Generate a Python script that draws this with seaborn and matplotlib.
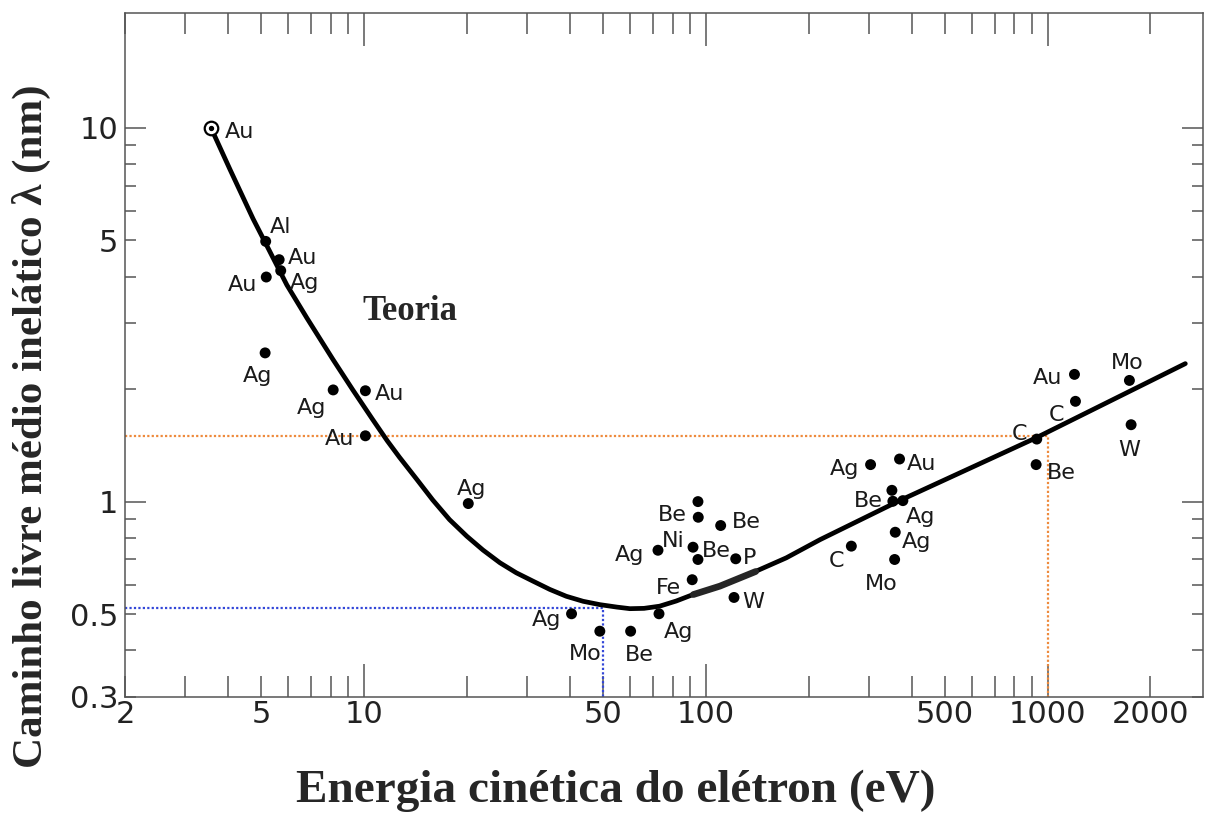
import numpy as np
import pandas as pd
import matplotlib
matplotlib.use("Agg")
import matplotlib.pyplot as plt
import seaborn as sns

# Universal curve (theory): kinetic energy (eV) vs. inelastic mean free path (nm)
curve_energy = [3.57, 4.06, 4.74, 5.20, 5.95, 6.81, 8.12, 9.28, 10.6, 11.7, 12.7,
                14.3, 15.9, 17.8, 20.0, 22.3, 25.0, 27.9, 31.3, 35.0, 39.1, 43.8,
                49.0, 55.0, 60.0, 66.0, 73.3, 82.0, 91.8, 110, 137, 172, 216,
                369, 928, 2530]
curve_imfp = [10.0, 7.73, 5.71, 4.84, 3.80, 3.10, 2.40, 1.99, 1.66, 1.455, 1.315,
              1.145, 1.01, 0.895, 0.808, 0.742, 0.686, 0.645, 0.612, 0.582, 0.558,
              0.541, 0.530, 0.522, 0.517, 0.518, 0.525, 0.542, 0.564, 0.594,
              0.645, 0.707, 0.791, 1.006, 1.483, 2.34]

# short highlighted stretch of the curve
segment_energy = [92, 110, 140]
segment_imfp = [0.564, 0.594, 0.650]

# measured values per element
elements = ["Al", "Au", "Ag", "Au", "Ag", "Ag", "Au", "Au", "Ag",
            "", "Be", "Be", "Ag", "Ni", "Be", "P", "Fe", "W", "Ag", "Ag", "Mo", "Be",
            "Ag", "Au", "", "Be", "Ag", "Ag", "Mo", "C", "C", "Be", "Au", "C", "Mo", "W"]
energy = [5.16, 5.65, 5.71, 5.18, 5.14, 8.13, 10.1, 10.1, 20.2,
          94.9, 95.1, 110.6, 72.5, 91.8, 94.9, 122.4, 91.3, 121, 73, 40.5, 49.0, 60.3,
          303.6, 369, 350.5, 352.8, 377.4, 358.5, 357, 266.7, 930, 926, 1199, 1207, 1736, 1756]
imfp = [4.97, 4.44, 4.15, 3.99, 2.50, 1.99, 1.98, 1.50, 0.988,
        1.00, 0.908, 0.863, 0.741, 0.755, 0.700, 0.703, 0.618, 0.554, 0.501, 0.501, 0.450, 0.450,
        1.256, 1.30, 1.072, 1.002, 1.006, 0.828, 0.70, 0.76, 1.47, 1.256, 2.19, 1.855, 2.11, 1.606]

# the reference point at the start of the curve
ref_element = "Au"
ref_energy = 3.57
ref_imfp = 10.0

# reading guides
guide_energy = [50, 1000]
guide_imfp = [0.52, 1.5]
guide_colors = ["#3347d8", "#ee8a3c"]

x_major = [10, 100, 1000]
x_minor = [2, 3, 4, 5, 6, 7, 8, 9, 20, 30, 40, 50, 60, 70, 80, 90,
           200, 300, 400, 500, 600, 700, 800, 900, 2000]
x_minor_labels = {2: "2", 5: "5", 50: "50", 500: "500", 2000: "2000"}
y_major = [1, 10]
y_minor = [0.3, 0.4, 0.5, 0.6, 0.7, 0.8, 0.9, 2, 3, 4, 5, 6, 7, 8, 9]
y_minor_labels = {0.3: "0.3", 0.5: "0.5", 5: "5"}

# label offsets in pixels (dx, dy down) for each measured point
label_offsets = [(15, -14), (23, -2), (24, 12), (-24, 8), (-8, 23), (-22, 18), (24, 3), (-26, 3), (3, -15),
                 (0, 0), (-26, -2), (26, -4), (-28, 5), (-20, -6), (18, -8), (14, -1), (-24, 8), (19, 5),
                 (20, 18), (-25, 6), (-15, 23), (9, 24),
                 (-26, 4), (22, 5), (0, 0), (-25, 0), (18, 16), (21, 10), (-13, 25), (-15, 15),
                 (-17, -5), (25, 8), (-27, 4), (-19, 14), (-2, -17), (-2, 25)]

sns.set_style("ticks")
plt.rcParams["font.family"] = ["DejaVu Sans"]

W, H, DPI = 1209, 816, 100
fig = plt.figure(figsize=(W / DPI, H / DPI), dpi=DPI)
left, right, top, bottom = 125, 1203, 13, 697
ax = fig.add_axes([left / W, 1 - bottom / H, (right - left) / W, (bottom - top) / H])

xmin, xmax = 2, 2850
ymin, ymax = 0.3, 20.3
ax.set_xscale("log")
ax.set_yscale("log")
ax.set_xlim(xmin, xmax)
ax.set_ylim(ymin, ymax)

px = 0.72  # points per pixel

# dotted reading guides
for e, l, c in zip(guide_energy, guide_imfp, guide_colors):
    ax.plot([xmin, e, e], [l, l, ymin], ls=(0, (1, 1)), lw=1.6, color=c, zorder=1)

curve = pd.DataFrame({"E": curve_energy, "lam": curve_imfp})
sns.lineplot(data=curve, x="E", y="lam", ax=ax, sort=False, color="black",
             lw=3.4, zorder=3, legend=False)
seg = pd.DataFrame({"E": segment_energy, "lam": segment_imfp})
sns.lineplot(data=seg, x="E", y="lam", ax=ax, sort=False, color="#262626",
             lw=4.8, zorder=3, legend=False)

pts = pd.DataFrame({"E": energy, "lam": imfp, "el": elements})
sns.scatterplot(data=pts, x="E", y="lam", ax=ax, s=62, color="black",
                edgecolor="none", zorder=4, legend=False)

# open circle marking the reference point
ax.scatter([ref_energy], [ref_imfp], s=95, facecolor="white", edgecolor="black",
           linewidth=1.6, zorder=5)
ax.scatter([ref_energy], [ref_imfp], s=8, color="black", zorder=6)
ax.annotate(ref_element, (ref_energy, ref_imfp), xytext=(29 * px, -4 * px),
            textcoords="offset points", ha="center", va="center",
            fontsize=16, color="#1a1a1a", zorder=6)

for el, e, l, (dx, dy) in zip(elements, energy, imfp, label_offsets):
    if el:
        ax.annotate(el, (e, l), xytext=(dx * px, -dy * px), textcoords="offset points",
                    ha="center", va="center", fontsize=16, color="#1a1a1a", zorder=6)

fig.text(410 / W, 1 - 312 / H, "Teoria", fontsize=25, fontweight="bold",
         family="Liberation Serif", ha="center", va="center")

# ticks
ax.set_xticks(x_major, [str(v) for v in x_major])
ax.set_xticks(x_minor, [x_minor_labels.get(v, "") for v in x_minor], minor=True)
ax.set_yticks(y_major, [str(v) for v in y_major])
ax.set_yticks(y_minor, [y_minor_labels.get(v, "") for v in y_minor], minor=True)

frame_color = "#555555"
for s in ax.spines.values():
    s.set_color(frame_color)
    s.set_linewidth(1.1)
ax.tick_params(which="both", direction="in", top=True, right=True,
               color=frame_color, width=1.1, labelsize=22, labelcolor="#222222")
ax.tick_params(axis="x", which="major", length=24, pad=2)
ax.tick_params(axis="x", which="minor", length=15, pad=2)
ax.tick_params(axis="y", which="major", length=15, pad=5)
ax.tick_params(axis="y", which="minor", length=8, pad=5)
ax.set_xlabel("")
ax.set_ylabel("")

fig.text(616 / W, 1 - 791 / H, "Energia cinética do elétron (eV)", fontsize=34,
         fontweight="bold", family="Liberation Serif", ha="center", va="center")
fig.text(31 / W, 1 - 426 / H, "Caminho livre médio inelático λ (nm)", fontsize=31,
         fontweight="bold", family="Liberation Serif", ha="center", va="center",
         rotation=90)

fig.savefig("out.png", dpi=DPI, facecolor="white")
